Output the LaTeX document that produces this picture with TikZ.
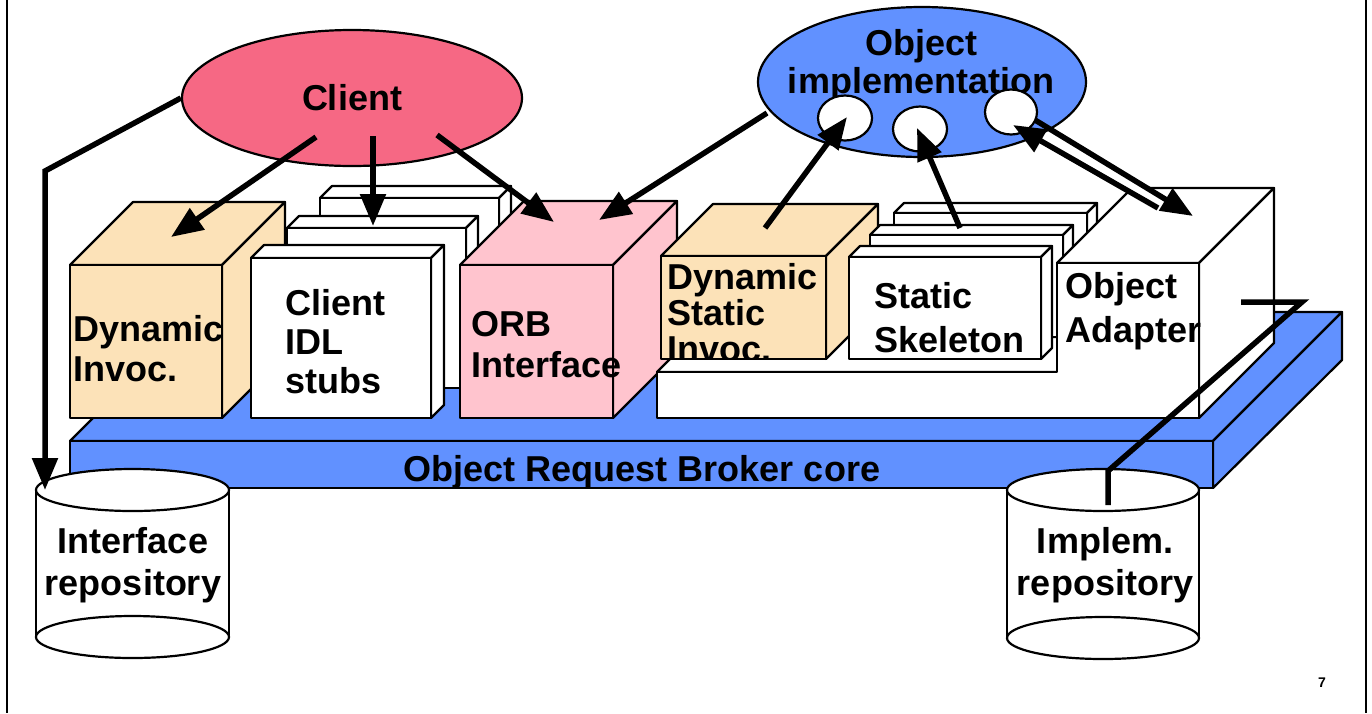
\documentclass[tikz,border=0pt]{standalone}
\usepackage{fontspec}
\setmainfont{Liberation Sans}
\usetikzlibrary{arrows.meta,shapes.geometric}
\definecolor{slabblue}{RGB}{97,145,255}
\definecolor{clientred}{RGB}{246,104,132}
\definecolor{orbpink}{RGB}{255,196,206}
\definecolor{wheatc}{RGB}{252,226,184}
\newcommand{\obox}[6]{%
  \filldraw[face,fill=#6] (#1,#2) -- ({#1+#5},{#2-#5}) -- ({#3+#5},{#2-#5}) -- (#3,#2) -- cycle;
  \filldraw[face,fill=#6] (#3,#2) -- ({#3+#5},{#2-#5}) -- ({#3+#5},{#4-#5}) -- (#3,#4) -- cycle;
  \filldraw[face,fill=#6] (#1,#2) rectangle (#3,#4);}
\newcommand{\repo}[4]{%
  \fill[white] ({#1-#4},#2) rectangle ({#1+#4},#3);
  \draw[face,fill=white] (#1,#3) ellipse [x radius=#4, y radius=21];
  \draw[face] ({#1-#4},#2) -- ({#1-#4},#3);
  \draw[face] ({#1+#4},#2) -- ({#1+#4},#3);
  \draw[face,fill=white] (#1,#2) ellipse [x radius=#4, y radius=21];}
\begin{document}
\begin{tikzpicture}[x=1pt,y=-1pt,
  face/.style={draw=black,line width=2.2pt,line join=round},
  txt/.style={inner sep=0pt,font=\fontsize{36}{#1}\selectfont\bfseries},
  lt/.style={txt=#1,anchor=base west,align=left},
  ct/.style={txt=#1,anchor=base,align=center},
  arr/.style={line width=5.5pt,-{Triangle[length=32pt,width=25pt]}},
  wire/.style={line width=5.5pt,line join=miter},
  smallell/.style={ellipse,face,fill=white,inner sep=0pt}]
\useasboundingbox (0,0) rectangle (1372,713);
\draw[line width=2pt] (7,0) -- (7,713);
\draw[line width=2pt] (1366,0) -- (1366,713);
% ORB core slab
\filldraw[face,fill=slabblue] (70,441) -- (199,312) -- (1342,312) -- (1213,441) -- cycle;
\filldraw[face,fill=slabblue] (1213,441) -- (1342,312) -- (1342,360) -- (1213,488) -- cycle;
\filldraw[face,fill=slabblue] (70,441) rectangle (1213,488);
\node[ct=39] (core) at (642,481) {Object Request Broker core};
% Dynamic invocation
\obox{70}{265}{222}{418}{63}{wheatc}
\node[lt=40] (dyn) at (73,381) {Dynamic\\Invoc.};
% Client IDL stubs
\obox{320}{198}{499}{358}{12}{white}
\obox{287}{228}{466}{388}{12}{white}
\obox{251}{258}{431}{418}{13}{white}
\node[lt=39] (stubs) at (285,393) {Client\\IDL\\stubs};
% ORB interface
\obox{460}{265}{613}{418}{64}{orbpink}
\node[lt=41] (orbi) at (471,377) {ORB\\Interface};
% platform top
\filldraw[face,fill=white] (657,372) -- (692,337) -- (1092,337) -- (1057,372) -- cycle;
% Dynamic static invocation
\obox{661}{256}{826}{359}{52}{wheatc}
\begin{scope}
\clip (661,256) rectangle (826,358);
\node[lt=36] (dsi) at (667,361) {Dynamic\\Static\\Invoc.};
\end{scope}
% Static skeleton
\obox{894}{213}{1087}{315}{10}{white}
\obox{870}{235}{1063}{337}{10}{white}
\obox{849}{257}{1041}{359}{11}{white}
\node[lt=44] (skel) at (874,352) {Static\\Skeleton};
% Object adapter
\filldraw[face,fill=white] (1057,263) -- (1132,188) -- (1274,188) -- (1199,263) -- cycle;
\filldraw[face,fill=white] (1199,263) -- (1274,188) -- (1274,343) -- (1199,418) -- cycle;
\filldraw[face,fill=white] (657,372) -- (1057,372) -- (1057,263) -- (1199,263) -- (1199,418) -- (657,418) -- cycle;
\node[lt=44] (oa) at (1065,342) {Object\\Adapter};
% repositories
\repo{132.5}{490}{637}{96.5}
\node[ct=42] (irep) at (133,595) {Interface\\repository};
\repo{1103}{490}{638}{96}
\node[ct=42] (imrep) at (1105,595) {Implem.\\repository};
% client and object implementation
\node[ellipse,face,fill=clientred,minimum width=340pt,minimum height=136pt,txt=39] (client) at (352,98) {Client};
\node[ellipse,face,fill=slabblue,minimum width=328pt,minimum height=150pt] (objimpl) at (922,82) {};
\node[ct=38] (objlbl) at (921,93) {Object\\implementation};
\node[smallell,minimum width=54pt,minimum height=45pt] (s1) at (845,118) {};
\node[smallell,minimum width=54pt,minimum height=45pt] (s2) at (920,129) {};
\node[smallell,minimum width=52pt,minimum height=45pt] (s3) at (1011,112) {};
% connector points
\coordinate (c1a) at (316,137); \coordinate (c1b) at (171,237);
\coordinate (c2a) at (373,136); \coordinate (c2b) at (373,226);
\coordinate (c3a) at (437,135); \coordinate (c3b) at (554,222);
\coordinate (o1a) at (767,113); \coordinate (o1b) at (599,220);
\coordinate (d1a) at (765,228); \coordinate (d1b) at (847,117);
\coordinate (k1a) at (960,228); \coordinate (k1b) at (917,128);
\coordinate (u1a) at (1035,120); \coordinate (u1b) at (1193,216);
\coordinate (l1a) at (1158,208); \coordinate (l1b) at (1013,125);
\coordinate (g1a) at (1110,172); \coordinate (g1b) at (1158,202);
\coordinate (lbend) at (45,171); \coordinate (irtop) at (45,490);
\coordinate (oain) at (1241,302); \coordinate (rbend1) at (1302,302);
\coordinate (rbend2) at (1108,471); \coordinate (imtop) at (1108,505);
% connectors
\draw[arr] (c1a) -- (c1b);
\draw[arr] (c2a) -- (c2b);
\draw[arr] (c3a) -- (c3b);
\draw[arr] (o1a) -- (o1b);
\draw[arr] (d1a) -- (d1b);
\draw[arr] (k1a) -- (k1b);
\draw[white,line width=11pt] (g1a) -- (g1b);
\draw[arr] (u1a) -- (u1b);
\draw[arr] (l1a) -- (l1b);
\draw[arr,line join=miter] (client.west) -- (lbend) -- (irtop);
\draw[wire] (oain) -- (rbend1) -- (rbend2) -- (imtop);
\node[font=\fontsize{14}{16}\selectfont\bfseries,anchor=base,inner sep=0pt] (pg) at (1322,687) {7};
\end{tikzpicture}
\end{document}
